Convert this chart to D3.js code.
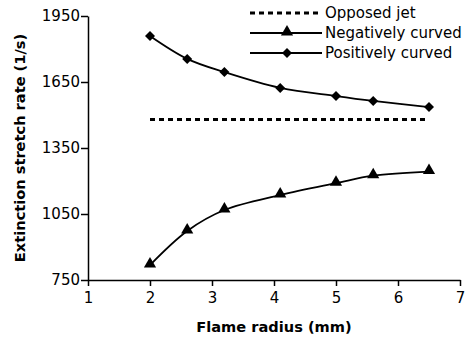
<!DOCTYPE html>
<meta charset="utf-8">
<style>
    body {
        margin: 0;
        background-color: #ffffff;
    }
    text {
        font-family: "DejaVu Sans", sans-serif;
        fill: #000;
    }
    .axis path,
    .axis line {
        stroke: #000;
        stroke-width: 1.5px;
    }
    .axis text {
        font-size: 15px;
    }
    .title {
        font-size: 14.6px;
        font-weight: bold;
    }
</style>
<body>
<svg width="470" height="342"></svg>
<script src="https://d3js.org/d3.v7.min.js"></script>
<script>
    // flame radius (mm)
    var radius = [2, 2.6, 3.2, 4.1, 5, 5.6, 6.5];
    var opposedJetX = [2, 6.5];
    var opposedJet = [1480, 1480];
    var negCurved = [818, 973, 1068, 1136, 1190, 1224, 1243];
    var posCurved = [1859, 1755, 1695, 1623, 1586, 1564, 1536];
    var xTicks = [1, 2, 3, 4, 5, 6, 7];
    var yTicks = [750, 1050, 1350, 1650, 1950];
    var legendNames = ["Opposed jet", "Negatively curved", "Positively curved"];

    var svg = d3.select("svg"),
        margin = { top: 16, right: 10, bottom: 62, left: 88 },
        width = +svg.attr("width") - margin.left - margin.right,
        height = +svg.attr("height") - margin.top - margin.bottom;

    var x = d3.scaleLinear().domain([1, 7]).range([0, width]);
    var y = d3.scaleLinear().domain([750, 1950]).range([height, 0]);

    var g = svg.append("g")
        .attr("transform", "translate(" + margin.left + "," + margin.top + ")");

    g.append("g")
        .attr("class", "x axis")
        .attr("transform", "translate(0," + height + ")")
        .call(d3.axisBottom(x).tickValues(xTicks).tickFormat(d3.format("d"))
            .tickSizeInner(6).tickSizeOuter(0).tickPadding(6));

    g.append("g")
        .attr("class", "y axis")
        .call(d3.axisLeft(y).tickValues(yTicks).tickFormat(d3.format("d"))
            .tickSizeInner(7).tickSizeOuter(0).tickPadding(1));

    g.append("text")
        .attr("class", "title")
        .attr("x", width / 2)
        .attr("y", height + 52)
        .attr("text-anchor", "middle")
        .text("Flame radius (mm)");

    g.append("text")
        .attr("class", "title")
        .attr("transform", "translate(-63," + (height / 2) + ") rotate(-90)")
        .attr("text-anchor", "middle")
        .text("Extinction stretch rate (1/s)");

    var line = d3.line()
        .x(function(d) { return x(d[0]); })
        .y(function(d) { return y(d[1]); })
        .curve(d3.curveCatmullRom);

    var negData = radius.map(function(r, i) { return [r, negCurved[i]]; });
    var posData = radius.map(function(r, i) { return [r, posCurved[i]]; });
    var jetData = opposedJetX.map(function(r, i) { return [r, opposedJet[i]]; });

    g.append("path")
        .datum(jetData)
        .attr("fill", "none")
        .attr("stroke", "#000")
        .attr("stroke-width", 3)
        .attr("stroke-dasharray", "5,4")
        .attr("d", d3.line().x(function(d) { return x(d[0]); }).y(function(d) { return y(d[1]); }));

    [negData, posData].forEach(function(data) {
        g.append("path")
            .datum(data)
            .attr("fill", "none")
            .attr("stroke", "#000")
            .attr("stroke-width", 1.8)
            .attr("d", line);
    });

    var tri = d3.symbol().type(d3.symbolTriangle).size(64);
    var dia = d3.symbol().type(d3.symbolSquare).size(50);

    g.selectAll(".tri")
        .data(negData)
        .enter().append("path")
        .attr("class", "tri")
        .attr("d", tri)
        .attr("transform", function(d) { return "translate(" + x(d[0]) + "," + (y(d[1]) - 1) + ")"; });

    g.selectAll(".dia")
        .data(posData)
        .enter().append("path")
        .attr("class", "dia")
        .attr("d", dia)
        .attr("transform", function(d) { return "translate(" + x(d[0]) + "," + y(d[1]) + ") rotate(45)"; });

    // legend
    var lg = svg.append("g").attr("transform", "translate(250,13)");
    legendNames.forEach(function(name, i) {
        var row = lg.append("g").attr("transform", "translate(0," + (i * 20) + ")");
        var ln = row.append("line")
            .attr("x1", 0).attr("x2", 72)
            .attr("stroke", "#000");
        if (i === 0) {
            ln.attr("stroke-width", 3).attr("stroke-dasharray", "5,4");
        } else {
            ln.attr("stroke-width", 1.8);
            row.append("path")
                .attr("d", i === 1 ? tri : dia)
                .attr("transform", "translate(37," + (i === 1 ? -1 : 0) + ")" + (i === 2 ? " rotate(45)" : ""));
        }
        row.append("text")
            .attr("x", 75)
            .attr("dy", "0.35em")
            .style("font-size", "15px")
            .text(name);
    });
</script>
</body>
